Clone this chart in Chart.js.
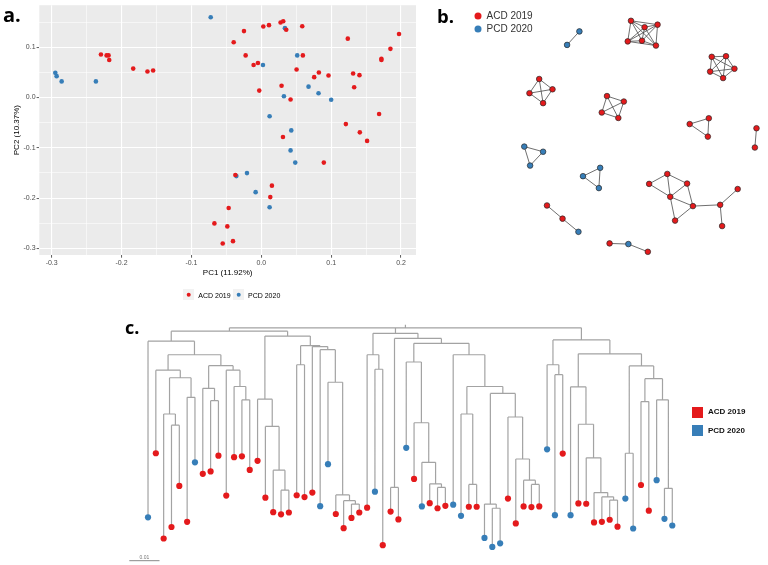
<!DOCTYPE html>
<html>
<head>
<meta charset="utf-8">
<script src="https://cdn.jsdelivr.net/npm/chart.js@4.4.1/dist/chart.umd.min.js"></script>
<style>
  html, body { margin:0; padding:0; background:#ffffff; }
  body { position:relative; width:768px; height:565px; overflow:hidden; font-family:'Liberation Sans', Arial, sans-serif; }
  .box { position:absolute; }
  .box canvas { display:block; }
  .tag { position:absolute; font-family:'Open Sans','DejaVu Sans',sans-serif; font-weight:700; color:#000; }
  .txt { position:absolute; white-space:nowrap; transform:translateY(-50%); line-height:1; }
  .dot { position:absolute; border-radius:50%; transform:translate(-50%,-50%); }
  .sq { position:absolute; }
</style>
</head>
<body>
<div class="box" style="left:0;top:0;width:420px;height:285px;"><canvas id="pca" width="420" height="285"></canvas></div>
<div class="box" style="left:420px;top:0;width:348px;height:270px;"><canvas id="net" width="348" height="270"></canvas></div>
<div class="box" style="left:0;top:300px;width:768px;height:265px;"><canvas id="tree" width="768" height="265"></canvas></div>

<div class="tag" style="left:3px;top:5px;font-size:20px;line-height:20px;">a.</div>
<div class="tag" style="left:437px;top:7px;font-size:18.5px;line-height:18.5px;">b.</div>
<div class="tag" style="left:125px;top:318px;font-size:18px;line-height:18px;">c.</div>

<script>
// ---------------- DATA ----------------
const groups = ['ACD 2019', 'PCD 2020'];
const groupColors = ['#E41A1C', '#377EB8'];

// Panel a: PCA scores
const pcaTitleX = 'PC1 (11.92%)';
const pcaTitleY = 'PC2 (10.37%)';
const pcaXRange = [-0.3177, 0.2214];
const pcaYRange = [-0.3131, 0.1835];
const acdPC1 = [-0.2295,-0.2214,-0.2186,-0.2176,-0.1833,-0.1629,-0.1548,-0.0248,-0.0395,-0.0224,-0.0110,-0.0048,0.0029,0.0110,0.0276,0.0314,0.0357,0.0586,0.0595,0.0505,-0.0029,0.0290,0.0419,0.0757,0.0824,0.0962,0.1238,0.1314,0.1405,0.1329,0.1719,0.1719,0.1848,0.1971,0.1686,0.1210,0.1410,0.1514,0.0310,0.0895,-0.0371,0.0152,0.0129,-0.0467,-0.0671,-0.0486,-0.0552,-0.0405];
const acdPC2 = [0.0856,0.0837,0.0837,0.0745,0.0575,0.0516,0.0536,0.1320,0.1098,0.0837,0.0647,0.0686,0.1412,0.1438,0.1490,0.1516,0.1346,0.1418,0.0837,0.0556,0.0137,0.0235,-0.0039,0.0405,0.0497,0.0438,0.1170,0.0477,0.0444,0.0203,0.0771,0.0745,0.0967,0.1261,-0.0327,-0.0529,-0.0693,-0.0863,-0.0784,-0.1294,-0.1542,-0.1752,-0.1980,-0.2196,-0.2503,-0.2562,-0.2902,-0.2856];
const pcdPC1 = [-0.0724,0.0338,0.0514,0.0324,0.0024,0.0676,0.0819,0.1000,0.0119,0.0429,0.0419,0.0486,-0.0205,-0.0357,-0.0081,0.0119,-0.2948,-0.2929,-0.2857,-0.2367];
const pcdPC2 = [0.1595,0.1379,0.0837,0.0026,0.0647,0.0216,0.0085,-0.0046,-0.0373,-0.0654,-0.1052,-0.1294,-0.1503,-0.1562,-0.1882,-0.2183,0.0490,0.0425,0.0320,0.0320];

// Panel b: network layout (layout units) and edges
const netX = [47.7,43.9,63.6,67.8,71.8,62.6,67.0,71.3,88.5,92.9,95.5,92.0,88.0,35.3,39.4,36.5,32.3,56.2,61.4,59.7,54.6,81.7,87.6,87.3,102.3,101.8,30.7,36.5,32.5,54.1,48.8,53.7,74.8,69.2,80.9,75.7,82.7,77.2,91.1,96.5,91.7,37.7,42.5,47.4,57.0,62.8,68.8];
const netY = [8.3,12.5,5.0,7.0,6.2,11.4,11.2,12.7,16.2,16.0,19.9,22.8,20.8,23.1,26.3,30.6,27.5,28.4,30.1,35.2,33.5,37.1,35.3,41.0,38.4,44.4,44.1,45.7,50.0,50.7,53.3,57.0,52.6,55.7,55.6,59.7,62.6,67.1,62.2,57.3,68.8,62.4,66.5,70.6,74.2,74.4,76.8];
const netGroup = [1,1,0,0,0,0,0,0,0,0,0,0,0,0,0,0,0,0,0,0,0,0,0,0,0,0,1,1,1,1,1,1,0,0,0,0,0,0,0,0,0,0,0,1,0,1,0];
const netEdges = [[0,1],
  [2,3],[2,4],[2,5],[2,6],[2,7],[3,4],[3,5],[3,6],[3,7],[4,5],[4,6],[4,7],[5,6],[5,7],[6,7],
  [8,9],[8,10],[8,11],[8,12],[9,10],[9,11],[9,12],[10,11],[10,12],[11,12],
  [13,14],[13,15],[13,16],[14,15],[14,16],[15,16],
  [17,18],[17,19],[17,20],[18,19],[18,20],[19,20],
  [21,22],[21,23],[22,23],[24,25],
  [26,27],[26,28],[27,28],[29,30],[29,31],[30,31],
  [32,33],[32,34],[32,35],[33,35],[34,35],[35,36],[34,36],[35,37],[36,37],[36,38],[38,39],[38,40],
  [41,42],[42,43],[44,45],[45,46]];

// Panel c: dendrogram (leaves in plotted order; depth from root in units of 0.001)
const leafGroup = [1,0,0,0,0,0,1, 0,0,0,0,0,0,0, 0,0,0,0,0,0,0, 0,1,1,0,0,0,0, 0,1,0,0,0,1,0, 1,0,0,0,1,1,0, 0,1,1,1,0,0,0, 0,0,1,1,0,1,0, 0,0,0,0,0,1,1, 0,0,1,1,1];
const leafDepth = [62.7,41.5,69.7,65.9,52.3,64.2,44.5, 48.3,47.5,42.3,55.5,42.8,42.5,47.0, 44.0,56.2,61.0,61.7,61.1,55.4,56.0, 54.5,59.0,45.1,61.6,66.3,62.9,61.1, 59.5,54.2,71.9,60.8,63.4,39.7,50.0, 59.1,58.0,59.7,58.9,58.5,62.2,59.2, 59.2,69.5,72.5,71.3,56.5,64.7,59.1, 59.3,59.1,40.2,62.0,41.6,62.0,58.1, 58.2,64.4,64.2,63.5,65.8,56.5,66.4, 52.0,60.5,50.4,63.2,65.4];
// merge rows (hclust style): negative = leaf number, positive = earlier merge row
const mergeChildren = [[-4,-5],[-3,1],[-6,-7],[2,3],[-2,4],[-9,-10],[-8,6],[-13,-14],[-12,8],[-11,9],[7,10],[5,11],[-1,12],
  [-18,-19],[-17,14],[-16,15],[-15,16],[-20,-21],[-27,-28],[-26,19],[-25,20],[-24,21],[-23,22],[-22,23],[18,24],[17,25],[13,26],
  [-30,-31],[-29,28],[-32,-33],[-38,-39],[-37,31],[-36,32],[-35,33],[-34,34],[-42,-43],[-41,36],[-45,-46],[-44,38],[-50,-51],[-49,40],[-48,41],[-47,42],[39,43],[37,44],[-40,45],[35,46],[30,47],[29,48],
  [-53,-54],[-52,50],[-60,-61],[-59,52],[-58,53],[-57,54],[-56,55],[-55,56],[-62,-63],[-64,-65],[-67,-68],[-66,60],[59,61],[58,62],[57,63],[51,64],
  [27,49,65]];
const mergeDepth = [32.2,28.5,23.0,16.5,14.0,24.1,20.0,23.8,19.4,14.0,12.5,8.9,4.4,
  53.7,47.1,32.6,23.6,12.2,58.3,57.2,55.3,18.0,7.2,6.2,5.9,2.7,1.1,
  13.7,8.9,52.8,52.8,51.6,44.5,31.4,11.3,51.8,28.5,59.7,58.3,51.8,50.4,43.4,29.5,21.7,19.4,8.9,5.1,3.5,1.8,
  15.5,12.2,57.0,55.9,54.5,43.0,31.9,19.5,41.5,24.4,53.1,23.8,16.8,12.6,8.6,4.0,
  0];
const rootEdge = 1.0;
const scaleBarValue = 10;      // 0.01 in units of 0.001
const scaleBarLabel = '0.01';

// ---------------- SETUP ----------------
Chart.defaults.font.family = "'Liberation Sans', Arial, sans-serif";
Chart.defaults.animation = false;
Chart.defaults.plugins.legend.display = false;
Chart.defaults.plugins.tooltip.enabled = false;

function addEl(cls, style, text) {
  const d = document.createElement('div');
  d.className = cls;
  Object.assign(d.style, style);
  if (text) d.textContent = text;
  document.body.appendChild(d);
}

// ---------------- PANEL A ----------------
const isMajor = v => Math.abs(v * 10 - Math.round(v * 10)) < 1e-6;
const panelBg = {
  id: 'panelBg',
  beforeDraw(ch) {
    const a = ch.chartArea, c = ch.ctx;
    c.save(); c.fillStyle = '#EBEBEB';
    c.fillRect(a.left, a.top, a.right - a.left, a.bottom - a.top);
    c.restore();
  }
};
const axisCommon = (range, title, isX) => ({
  type: 'linear', min: range[0], max: range[1],
  afterFit: s => { if (isX) s.height = 30; else s.width = 39.3; },
  border: { display: false },
  ticks: { stepSize: 0.05, includeBounds: false, autoSkip: false, maxRotation: 0, padding: 1,
    color: '#4D4D4D', font: { size: 7 },
    callback: v => isMajor(v) ? v.toFixed(1) : '' },
  grid: { color: '#FFFFFF',
    lineWidth: c => (c.tick && isMajor(c.tick.value)) ? 1.1 : 0.55,
    tickColor: c => (c.tick && isMajor(c.tick.value)) ? '#333333' : 'rgba(0,0,0,0)',
    tickLength: 2.7, tickWidth: 0.8 },
  title: { display: true, text: title, color: '#000', font: { size: 8 },
    padding: isX ? { top: 0, bottom: 7.5 } : { top: 12.2, bottom: 0 } }
});
new Chart(document.getElementById('pca'), {
  type: 'scatter',
  data: { datasets: [
    { label: groups[0], data: acdPC1.map((x, i) => ({ x, y: acdPC2[i] })), backgroundColor: groupColors[0], borderWidth: 0, pointRadius: 2.3 },
    { label: groups[1], data: pcdPC1.map((x, i) => ({ x, y: pcdPC2[i] })), backgroundColor: groupColors[1], borderWidth: 0, pointRadius: 2.3 }
  ]},
  options: {
    responsive: false,
    layout: { padding: { top: 1.7, right: 3.3, left: 0, bottom: 0 } },
    scales: { x: axisCommon(pcaXRange, pcaTitleX, true), y: axisCommon(pcaYRange, pcaTitleY, false) }
  },
  plugins: [panelBg]
});
// legend a
[[183, 188.5, 198.3], [233.3, 238.8, 248]].forEach((p, g) => {
  addEl('sq', { left: p[0] + 'px', top: '289px', width: '11px', height: '11px', background: '#F2F2F2' });
  addEl('dot', { left: p[1] + 'px', top: '294.5px', width: '4.6px', height: '4.6px', background: groupColors[g] });
  addEl('txt', { left: p[2] + 'px', top: '294.5px', fontSize: '7px', color: '#000' }, groups[g]);
});

// ---------------- PANEL B ----------------
const edgeData = [];
netEdges.forEach(([i, j]) => {
  edgeData.push({ x: netX[i], y: netY[i] }, { x: netX[j], y: netY[j] }, { x: null, y: null });
});
new Chart(document.getElementById('net'), {
  type: 'scatter',
  data: { datasets: [
    { data: netX.map((x, i) => ({ x, y: netY[i] })), order: 0,
      backgroundColor: netGroup.map(g => groupColors[g]), borderColor: '#2a2a2a', borderWidth: 0.7, pointRadius: 2.8 },
    { data: edgeData, order: 1, showLine: true, spanGaps: false, pointRadius: 0, borderColor: '#4a4a4a', borderWidth: 0.8 }
  ]},
  options: {
    responsive: false,
    layout: { padding: 0 },
    scales: { x: { type: 'linear', display: false, min: 0, max: 104.4 },
              y: { type: 'linear', display: false, min: 0, max: 81, reverse: true } }
  }
});
[16, 28.7].forEach((y, g) => {
  addEl('dot', { left: '477.7px', top: y + 'px', width: '7px', height: '7px', background: groupColors[g] });
  addEl('txt', { left: '486.5px', top: y + 'px', fontSize: '10px', color: '#333' }, groups[g]);
});

// ---------------- PANEL C ----------------
const mergeX = [];
const refX = r => r < 0 ? -r : mergeX[r - 1];
const refD = r => r < 0 ? leafDepth[-r - 1] : mergeDepth[r - 1];
mergeChildren.forEach((ch, k) => { mergeX[k] = (refX(ch[0]) + refX(ch[ch.length - 1])) / 2; });
const treeSegs = [];
mergeChildren.forEach((ch, k) => {
  const d = mergeDepth[k];
  treeSegs.push({ x: refX(ch[0]), y: d }, { x: refX(ch[ch.length - 1]), y: d }, { x: null, y: null });
  ch.forEach(r => { treeSegs.push({ x: refX(r), y: d }, { x: refX(r), y: refD(r) }, { x: null, y: null }); });
});
const rootX = mergeX[mergeX.length - 1];
treeSegs.push({ x: rootX, y: -rootEdge }, { x: rootX, y: 0 });

const scaleBar = {
  id: 'scaleBar',
  afterDraw(ch) {
    const ys = ch.scales.y, c = ch.ctx;
    const len = Math.abs(ys.getPixelForValue(scaleBarValue) - ys.getPixelForValue(0));
    const x0 = 129.3, y0 = 260.7;
    c.save();
    c.strokeStyle = '#888'; c.lineWidth = 1;
    c.beginPath(); c.moveTo(x0, y0); c.lineTo(x0 + len, y0); c.stroke();
    c.fillStyle = '#777'; c.font = "5px 'Liberation Sans', Arial"; c.textAlign = 'center'; c.textBaseline = 'bottom';
    c.fillText(scaleBarLabel, x0 + len / 2, y0 - 0.5);
    c.restore();
  }
};
new Chart(document.getElementById('tree'), {
  type: 'scatter',
  data: { datasets: [
    { data: leafDepth.map((d, i) => ({ x: i + 1, y: d })), order: 0, clip: false,
      backgroundColor: leafGroup.map(g => groupColors[g]), borderWidth: 0, pointRadius: 3.1 },
    { data: treeSegs, order: 1, showLine: true, spanGaps: false, pointRadius: 0, clip: false,
      borderColor: '#A3A3A3', borderWidth: 1.2 }
  ]},
  options: {
    responsive: false,
    layout: { padding: { left: 144.1, right: 91.8, top: 0, bottom: 10.5 } },
    scales: { x: { type: 'linear', display: false, min: 0.5, max: 68.5 },
              y: { type: 'linear', display: false, min: -7.9, max: 75, reverse: true } }
  },
  plugins: [scaleBar]
});
[412, 430.5].forEach((y, g) => {
  addEl('sq', { left: '692px', top: (y - 5.5) + 'px', width: '11px', height: '11px', background: groupColors[g] });
  addEl('txt', { left: '708px', top: y + 'px', fontSize: '8px', fontWeight: '700', color: '#111' }, groups[g]);
});
</script>
</body>
</html>
